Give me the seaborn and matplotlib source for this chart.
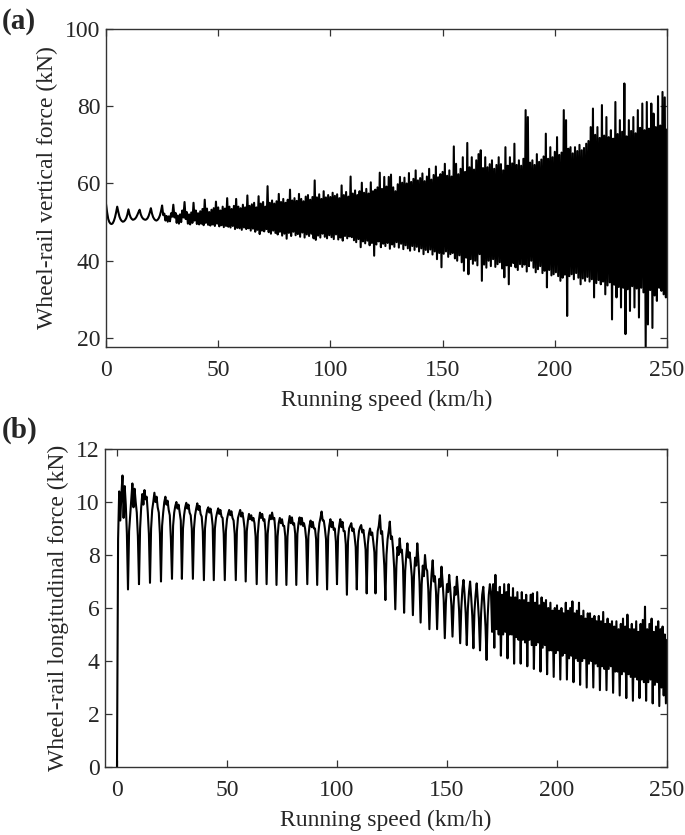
import numpy as np
import pandas as pd
import matplotlib
matplotlib.use("Agg")
import matplotlib.pyplot as plt
import seaborn as sns

# ---------------------------------------------------------------------------
# Data, one value every STEP km/h
# ---------------------------------------------------------------------------
STEP = 0.5

# (a) wheel-rail vertical force (kN)
vert_0_50 = [
    54.7, 52.5, 50.8, 50.0, 49.6, 49.5, 49.7, 50.3, 51.2, 52.5,
    54.0, 52.6, 51.4, 50.7, 50.3, 50.1, 50.2, 50.5, 51.0, 51.9,
    53.3, 52.0, 51.2, 50.8, 50.6, 50.7, 50.9, 51.3, 51.9, 52.6,
    53.2, 52.0, 51.3, 50.9, 50.7, 50.6, 50.7, 51.0, 51.6, 52.5,
    53.6, 52.2, 51.3, 50.8, 50.5, 50.4, 50.6, 51.0, 51.7, 52.8,
    54.3, 51.8, 52.2, 50.4, 51.6, 50.1, 51.5, 50.2, 52.3, 51.4,
    54.5, 51.2, 52.4, 49.8, 51.7, 49.6, 52.0, 50.0, 53.0, 51.2,
    55.2, 50.8, 52.6, 49.6, 52.0, 49.4, 52.5, 49.8, 55.0, 50.4,
    53.0, 49.5, 52.3, 49.4, 52.8, 49.6, 53.4, 49.2, 55.8, 49.8,
    53.5, 49.3, 52.6, 49.1, 53.2, 49.4, 53.6, 49.0, 55.3, 49.6,
]
vert_50_100 = [
    53.8, 48.9, 53.0, 49.2, 54.0, 48.7, 53.5, 49.0, 56.2, 48.8,
    54.0, 48.6, 53.4, 49.0, 54.2, 48.2, 56.0, 48.5, 54.0, 48.4,
    53.6, 48.0, 54.5, 48.6, 53.8, 48.2, 56.9, 48.4, 54.2, 47.8,
    54.6, 48.3, 55.0, 47.5, 53.8, 48.0, 56.7, 46.9, 54.8, 47.8,
    55.2, 47.6, 54.0, 48.2, 59.3, 47.4, 55.0, 47.0, 55.6, 47.8,
    54.8, 47.2, 55.4, 46.8, 57.3, 47.5, 55.2, 46.5, 56.0, 47.0,
    55.0, 45.7, 55.8, 47.2, 58.4, 46.4, 55.6, 47.5, 56.2, 46.6,
    55.5, 46.9, 57.3, 46.2, 56.0, 47.3, 55.4, 46.0, 56.6, 46.8,
    57.0, 46.4, 55.8, 47.0, 56.5, 45.8, 60.8, 45.4, 56.4, 46.5,
    57.2, 46.0, 56.0, 47.0, 58.0, 46.2, 56.4, 45.8, 57.0, 46.6,
]
vert_100_150 = [
    56.5, 46.1, 57.6, 45.6, 56.8, 46.8, 57.2, 45.5, 56.2, 46.0,
    59.5, 45.2, 57.0, 46.4, 57.8, 45.8, 56.6, 46.3, 61.8, 46.1,
    57.4, 45.3, 58.2, 44.8, 57.0, 45.6, 58.0, 43.5, 60.2, 45.0,
    57.6, 44.5, 58.6, 45.2, 57.4, 44.0, 60.3, 44.6, 58.0, 41.3,
    58.4, 44.2, 59.0, 45.0, 62.8, 43.5, 58.6, 44.4, 61.7, 43.8,
    59.2, 44.6, 61.7, 43.1, 62.3, 44.2, 59.0, 43.6, 58.0, 44.8,
    59.8, 43.4, 61.7, 44.4, 60.2, 43.0, 61.5, 44.0, 60.0, 43.2,
    62.7, 42.6, 60.4, 43.8, 61.2, 42.8, 63.4, 43.6, 60.8, 42.4,
    61.4, 43.2, 62.6, 41.7, 60.6, 42.8, 61.8, 42.2, 63.8, 42.9,
    61.0, 41.6, 62.2, 42.4, 64.4, 40.4, 61.6, 42.0, 62.4, 38.3,
]
vert_150_200 = [
    63.0, 41.8, 65.1, 42.4, 62.0, 41.0, 63.4, 41.7, 61.8, 42.0,
    69.6, 40.6, 65.1, 40.0, 62.4, 41.4, 63.8, 39.6, 66.8, 37.4,
    63.0, 40.8, 70.5, 36.5, 64.2, 40.4, 66.8, 39.2, 63.6, 40.0,
    66.0, 38.8, 67.6, 41.7, 68.6, 34.8, 64.0, 39.0, 66.8, 38.2,
    64.2, 40.0, 65.0, 38.6, 66.0, 40.4, 63.8, 38.4, 64.8, 39.1,
    66.8, 39.6, 65.0, 38.0, 63.4, 35.7, 69.4, 38.8, 64.6, 33.9,
    66.8, 38.6, 65.2, 39.4, 70.3, 38.3, 64.8, 37.6, 66.0, 39.1,
    64.6, 38.4, 66.4, 39.0, 79.0, 37.2, 77.2, 38.6, 65.4, 40.0,
    66.0, 38.2, 64.8, 37.0, 67.6, 37.8, 65.6, 38.6, 66.2, 36.8,
    67.0, 37.4, 72.9, 33.1, 66.4, 37.6, 69.4, 36.2, 66.8, 36.5,
]
vert_200_250 = [
    68.2, 37.0, 72.0, 36.0, 67.4, 34.8, 68.0, 35.6, 79.0, 36.4,
    76.4, 25.7, 69.0, 36.0, 69.4, 36.5, 67.8, 35.2, 69.4, 36.8,
    68.4, 35.6, 70.0, 33.9, 68.6, 35.4, 69.2, 34.8, 70.3, 35.8,
    71.0, 34.6, 74.6, 35.2, 79.4, 30.5, 72.6, 34.2, 74.6, 35.0,
    71.8, 33.9, 80.3, 34.6, 72.4, 31.3, 77.2, 33.6, 72.0, 34.4,
    73.8, 24.8, 71.6, 33.8, 81.1, 30.5, 72.8, 33.2, 76.4, 27.9,
    73.4, 33.0, 85.9, 21.0, 72.2, 32.6, 76.4, 27.0, 73.6, 33.4,
    77.2, 27.9, 73.0, 32.8, 79.0, 25.3, 74.4, 33.0, 80.7, 31.8,
    73.8, 17.5, 81.1, 23.5, 74.2, 32.4, 80.7, 22.6, 78.1, 31.0,
    74.6, 29.6, 82.6, 33.0, 75.0, 32.2, 83.7, 31.3, 82.3, 30.5,
    74.0,
]

# (b) wheel-rail longitudinal force (kN)
long_0_50 = [
    0.0, 8.6, 10.4, 9.3, 10.3, 11.0, 9.4, 10.6, 9.9, 8.8,
    6.7, 8.9, 9.5, 10.1, 10.7, 9.8, 10.5, 10.0, 9.6, 8.7,
    6.9, 9.0, 9.8, 10.3, 9.9, 10.45, 10.1, 10.2, 9.6, 8.8,
    6.95, 9.0, 9.7, 10.0, 10.35, 10.0, 10.2, 9.8, 9.6, 8.8,
    7.0, 9.1, 9.6, 10.0, 10.2, 9.9, 10.05, 9.7, 9.5, 8.6,
    7.1, 9.1, 9.6, 9.85, 10.0, 9.75, 9.9, 9.6, 9.3, 7.1,
    9.0, 9.5, 9.8, 9.97, 9.75, 9.9, 9.6, 9.5, 9.0, 7.1,
    9.0, 9.5, 9.75, 9.95, 9.7, 9.85, 9.55, 9.45, 8.9, 7.05,
    9.0, 9.45, 9.7, 9.8, 9.6, 9.75, 9.5, 9.1, 7.05, 9.0,
    9.4, 9.6, 9.76, 9.55, 9.7, 9.45, 9.4, 8.8, 7.05, 8.9,
]
long_50_100 = [
    9.35, 9.55, 9.7, 9.5, 9.65, 9.4, 9.3, 8.8, 7.05, 8.9,
    9.4, 9.55, 9.7, 9.45, 9.6, 9.35, 9.0, 7.0, 8.9, 9.3,
    9.55, 9.35, 9.5, 9.3, 9.4, 9.2, 8.7, 6.9, 8.8, 9.3,
    9.6, 9.4, 9.55, 9.3, 9.35, 8.9, 6.9, 8.8, 9.25, 9.5,
    9.35, 9.6, 9.35, 9.4, 8.9, 6.87, 8.7, 9.2, 9.4, 9.2,
    9.35, 9.1, 9.1, 8.7, 6.87, 8.7, 9.2, 9.47, 9.2, 9.42,
    9.15, 9.2, 8.8, 6.87, 8.8, 9.2, 9.42, 9.15, 9.4, 9.1,
    9.2, 9.0, 8.6, 6.9, 8.7, 9.1, 9.3, 9.05, 9.25, 9.0,
    9.0, 8.6, 6.87, 8.8, 9.2, 9.4, 9.64, 9.3, 9.3, 9.0,
    8.6, 6.7, 8.7, 9.1, 9.35, 9.05, 9.25, 8.95, 9.0, 8.5,
]
long_100_150 = [
    6.9, 8.7, 9.1, 9.35, 9.05, 9.25, 8.9, 8.9, 8.4, 6.5,
    8.5, 9.0, 9.1, 9.2, 8.9, 9.0, 8.7, 8.3, 6.7, 8.5,
    8.9, 9.05, 9.13, 8.85, 8.95, 8.6, 8.2, 6.55, 8.4, 8.8,
    9.0, 8.75, 8.85, 8.5, 8.1, 6.55, 8.3, 8.9, 9.1, 9.5,
    8.8, 8.9, 8.3, 7.6, 6.3, 8.0, 8.6, 8.9, 9.26, 8.6,
    8.7, 8.2, 7.5, 5.95, 7.6, 8.3, 8.0, 8.63, 8.1, 8.2,
    7.6, 5.82, 7.4, 8.0, 8.44, 7.9, 8.1, 7.7, 7.2, 5.73,
    7.2, 7.9, 7.6, 8.44, 7.8, 7.0, 5.45, 6.9, 7.6, 7.2,
    8.0, 7.5, 7.4, 6.7, 5.2, 6.6, 7.3, 7.8, 7.0, 7.2,
    6.6, 5.2, 6.5, 7.1, 6.8, 7.56, 7.0, 6.3, 4.86, 6.2,
]
long_150_200 = [
    6.9, 6.6, 7.25, 6.7, 6.1, 4.92, 6.1, 6.8, 6.5, 7.18,
    6.6, 5.9, 4.67, 6.0, 6.7, 7.06, 6.5, 5.8, 4.6, 6.0,
    6.6, 7.0, 6.4, 5.7, 4.48, 5.9, 6.5, 6.93, 6.3, 5.6,
    4.4, 5.8, 6.5, 6.8, 6.1, 5.3, 4.04, 5.7, 6.5, 6.9,
    6.6, 5.1, 6.9, 4.5, 7.25, 5.2, 6.6, 5.0, 6.8, 4.2,
    6.5, 5.0, 6.9, 5.1, 6.6, 4.1, 6.9, 5.0, 6.4, 5.0,
    6.75, 3.9, 6.4, 4.9, 6.6, 4.8, 6.3, 3.9, 6.6, 4.8,
    6.3, 4.7, 6.5, 3.8, 6.2, 4.8, 6.5, 4.6, 6.55, 3.7,
    6.2, 4.6, 6.6, 4.7, 6.1, 3.6, 6.4, 4.5, 6.2, 4.6,
    6.3, 3.5, 6.0, 4.4, 6.2, 4.4, 5.9, 3.4, 6.0, 4.3,
]
long_200_250 = [
    6.1, 4.4, 5.9, 3.3, 6.0, 4.2, 5.8, 4.3, 6.2, 3.3,
    5.9, 4.1, 6.0, 4.2, 6.25, 3.2, 5.8, 4.1, 5.9, 4.0,
    6.2, 3.1, 5.7, 4.0, 5.9, 4.1, 5.6, 3.0, 5.8, 3.9,
    5.8, 4.0, 5.6, 3.0, 5.7, 3.9, 5.5, 3.8, 5.7, 2.9,
    5.5, 3.8, 5.85, 3.7, 5.4, 2.9, 5.6, 3.7, 5.4, 3.8,
    5.5, 2.8, 5.3, 3.6, 5.5, 3.6, 5.2, 2.7, 5.4, 3.5,
    5.6, 3.6, 5.3, 2.6, 5.75, 3.5, 5.2, 3.4, 5.4, 2.5,
    5.2, 3.4, 5.5, 3.3, 5.1, 2.6, 5.4, 3.3, 5.55, 3.2,
    6.05, 2.5, 5.2, 3.2, 5.4, 3.3, 5.6, 2.4, 5.1, 3.1,
    5.3, 3.2, 5.5, 2.3, 5.2, 3.0, 5.3, 2.7, 5.0, 2.4,
    4.8,
]

segment_starts = [0, 50, 100, 150, 200]
x_ticks = [0, 50, 100, 150, 200, 250]
ya_ticks = [20, 40, 60, 80, 100]
yb_ticks = [0, 2, 4, 6, 8, 10, 12]


def build(segments):
    speeds, forces = [], []
    for start, seg in zip(segment_starts, segments):
        speeds.extend(start + STEP * np.arange(len(seg)))
        forces.extend(seg)
    return pd.DataFrame({"speed": speeds, "force": forces})


df_a = build([vert_0_50, vert_50_100, vert_100_150, vert_150_200, vert_200_250])
df_b = build([long_0_50, long_50_100, long_100_150, long_150_200, long_200_250])

# ---------------------------------------------------------------------------
sns.set_style("ticks")
plt.rcParams["font.family"] = ["Liberation Serif", "DejaVu Serif"]
plt.rcParams["axes.linewidth"] = 1.0
plt.rcParams["path.simplify"] = False
plt.rcParams["agg.path.chunksize"] = 0

W, H = 685, 835
fig = plt.figure(figsize=(W / 100, H / 100), dpi=100)


def axes_px(left, top, right, bottom):
    return fig.add_axes([left / W, 1 - bottom / H, (right - left) / W, (bottom - top) / H])


ax_a = axes_px(106, 29, 667, 347)
ax_b = axes_px(105, 449, 667, 767)

FS = 17
spine_col = "#333333"
for ax, df, ylim, yt, xlim, ylab in [
    (ax_a, df_a, (17.66, 100), ya_ticks, (0, 250), "Wheel-rail vertical force (kN)"),
    (ax_b, df_b, (0, 12), yb_ticks, (-5.45, 250), "Wheel-rail longitudinal force (kN)"),
]:
    sns.lineplot(data=df, x="speed", y="force", ax=ax, color="black",
                 linewidth=1.5, estimator=None, sort=False)
    ax.set_xlim(*xlim)
    ax.set_ylim(*ylim)
    ax.set_xticks(x_ticks)
    ax.set_yticks(yt)
    ax.set_xticklabels([str(v) for v in x_ticks])
    ax.set_yticklabels([str(v) for v in yt])
    ax.tick_params(axis="both", direction="in", length=5, width=0.9,
                   color=spine_col, labelsize=FS, top=True, right=True)
    ax.tick_params(axis="x", pad=9.5)
    ax.tick_params(axis="y", pad=4)
    for sp in ax.spines.values():
        sp.set_visible(True)
        sp.set_color(spine_col)
        sp.set_linewidth(1.0)
    ax.set_xlabel("Running speed (km/h)", fontsize=FS, labelpad=6)
    ax.set_ylabel(ylab, fontsize=FS, labelpad=5)

fig.text(2 / W, 1 - 28.5 / H, "(a)", fontsize=21, fontweight="bold", va="baseline", ha="left")
fig.text(2 / W, 1 - 437.5 / H, "(b)", fontsize=21, fontweight="bold", va="baseline", ha="left")

fig.savefig("out.png", dpi=100, facecolor="white")
